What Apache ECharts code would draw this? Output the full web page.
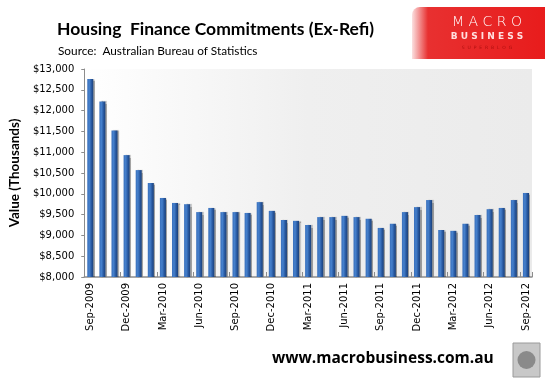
<!DOCTYPE html>
<html><head><meta charset="utf-8">
<script src="https://cdn.jsdelivr.net/npm/echarts@6/dist/echarts.min.js"></script>
<style>html,body{margin:0;padding:0;background:#fff}#c{width:545px;height:382px}</style>
</head><body><div id="c"></div>
<script>
var months = ['Sep-2009','Oct-2009','Nov-2009','Dec-2009','Jan-2010','Feb-2010','Mar-2010','Apr-2010','May-2010','Jun-2010','Jul-2010','Aug-2010','Sep-2010','Oct-2010','Nov-2010','Dec-2010','Jan-2011','Feb-2011','Mar-2011','Apr-2011','May-2011','Jun-2011','Jul-2011','Aug-2011','Sep-2011','Oct-2011','Nov-2011','Dec-2011','Jan-2012','Feb-2012','Mar-2012','Apr-2012','May-2012','Jun-2012','Jul-2012','Aug-2012','Sep-2012'];
var commitments = [12760,12220,11520,10930,10570,10260,9900,9780,9750,9560,9660,9560,9560,9540,9800,9590,9370,9350,9250,9440,9440,9470,9440,9400,9180,9280,9560,9680,9850,9130,9110,9280,9490,9630,9660,9850,10020];
var yMin = 8000, yMax = 13000, yStep = 500;

var chart = echarts.init(document.getElementById('c'));
chart.setOption({
  animation: false,
  title: [{
    text: 'Housing  Finance Commitments (Ex-Refi)',
    left: 52, top: 15,
    textStyle: {fontFamily: 'Lato', fontWeight: 'bold', fontSize: 17.5, color: '#000'}
  },{
    text: 'Source:  Australian Bureau of Statistics',
    left: 53, top: 40,
    textStyle: {fontFamily: 'Lato', fontWeight: 'normal', fontSize: 11.8, color: '#000'}
  }],
  grid: {left: 84, right: 13, top: 69, bottom: 105, show: true, borderWidth: 0,
    backgroundColor: new echarts.graphic.LinearGradient(0,0,1,0,[{offset:0,color:'#ffffff'},{offset:0.5,color:'#efefef'},{offset:1,color:'#ebebeb'}])},
  xAxis: {
    type: 'category', data: months,
    axisLine: {lineStyle: {color: '#8c8c8c', width: 1.5}},
    axisTick: {show: true, inside: true, length: 5, interval: function(i){return i%3===0 && i>0;}, lineStyle:{color:'#8c8c8c'}},
    axisLabel: {rotate: 90, interval: 2, fontFamily: 'DejaVu Sans', fontSize: 10, color: '#000', margin: 6}
  },
  yAxis: {
    type: 'value', min: yMin, max: yMax, interval: yStep,
    name: 'Value (Thousands)', nameLocation: 'middle', nameGap: 60, nameRotate: 90,
    nameTextStyle: {fontFamily: 'Lato', fontWeight: 'bold', fontSize: 13.5, color: '#000'},
    axisLine: {show: true, lineStyle: {color: '#8c8c8c'}},
    axisTick: {show: true, length: 3, lineStyle:{color:'#8c8c8c'}},
    splitLine: {show: false},
    axisLabel: {fontFamily: 'DejaVu Sans', fontSize: 10, color: '#000', margin: 10,
      formatter: function(v){return '$' + v.toLocaleString('en-US');}}
  },
  series: [{
    type: 'bar', data: commitments, barWidth: '50%',
    itemStyle: {
      color: new echarts.graphic.LinearGradient(0,0,1,0,[{offset:0,color:'#3a70bc'},{offset:0.35,color:'#4580cc'},{offset:0.7,color:'#2858a0'},{offset:1,color:'#1a4078'}]),
      shadowColor: 'rgba(0,0,0,0.35)', shadowOffsetX: 1.5, shadowBlur: 1
    }
  }],
  graphic: [
    {type:'rect', shape:{x:412,y:7,width:133,height:52,r:[8,0,0,0]},
     style:{fill:new echarts.graphic.LinearGradient(0,0,1,0,[{offset:0,color:'#fbe0e0'},{offset:0.12,color:'#e83030'},{offset:1,color:'#e81c1c'}])}},
    {type:'text', x:487, y:15, style:{text:'M A C R O', fill:'#fff', font:'300 14px "DejaVu Sans"', textAlign:'center'}},
    {type:'text', x:487, y:32, style:{text:'B U S I N E S S', fill:'#ffe0e0', font:'bold 9px "DejaVu Sans"', textAlign:'center'}},
    {type:'text', x:487, y:45, style:{text:'S  U  P  E  R  B  L  O  G', fill:'#b01010', font:'4.5px "DejaVu Sans"', textAlign:'center'}},
    {type:'text', x:272, y:351, style:{text:'www.macrobusiness.com.au', fill:'#000', font:'bold 15.5px "Open Sans"'}},
    {type:'rect', shape:{x:513,y:343,width:27,height:34}, style:{fill:'#c8c8c8', stroke:'#9a9a9a', lineWidth:1}},
    {type:'circle', shape:{cx:526.5,cy:360,r:9}, style:{fill:'#8a8a8a'}}
  ]
});
</script></body></html>
